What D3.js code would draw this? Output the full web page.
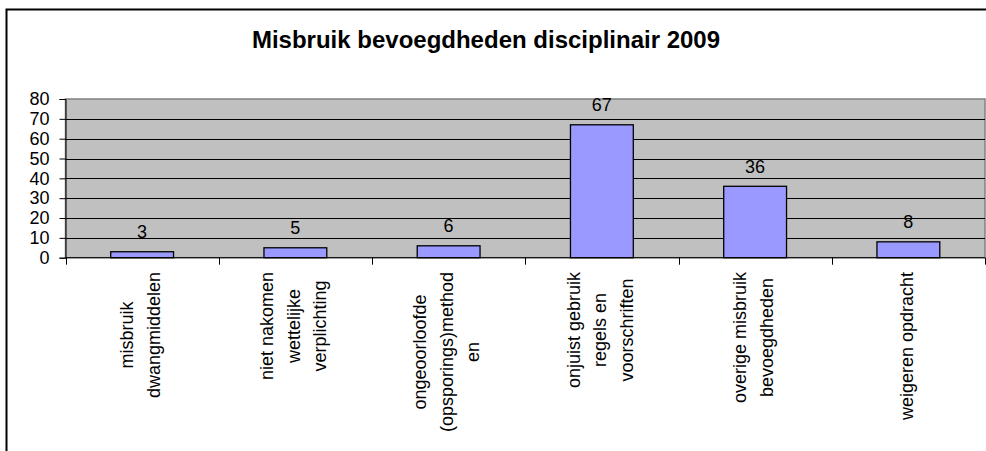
<!DOCTYPE html>
<html>
<head>
<meta charset="utf-8">
<script src="https://cdn.jsdelivr.net/npm/d3@7"></script>
<style>
  html, body { margin: 0; padding: 0; background: #fff; }
  svg { display: block; font-family: Arial, "Liberation Sans", sans-serif; }
</style>
</head>
<body>
<svg id="chart" width="986" height="451"></svg>
<script>
const title = "Misbruik bevoegdheden disciplinair 2009";
const categories = [
  ["misbruik", "dwangmiddelen"],
  ["niet nakomen", "wettelijke", "verplichting"],
  ["ongeoorloofde", "(opsporings)method", "en"],
  ["onjuist gebruik", "regels en", "voorschriften"],
  ["overige misbruik", "bevoegdheden"],
  ["weigeren opdracht"]
];
const values = [3, 5, 6, 67, 36, 8];
const yTicks = [0, 10, 20, 30, 40, 50, 60, 70, 80];

const svg = d3.select("#chart");
const W = 986, H = 451;
const plot = { left: 65.5, right: 985, top: 99, bottom: 257.7 };

// outer chart border
svg.append("rect")
  .attr("x", 6.5).attr("y", 9.5)
  .attr("width", 990).attr("height", 460)
  .attr("fill", "#fff").attr("stroke", "#000").attr("stroke-width", 2);

// title
svg.append("text")
  .attr("x", 486).attr("y", 48)
  .attr("text-anchor", "middle")
  .attr("font-weight", "bold")
  .attr("font-size", 24)
  .attr("fill", "#000")
  .text(title);

const keys = categories.map((c, i) => i);
const x = d3.scaleBand().domain(keys).range([plot.left, plot.right]).paddingInner(0).paddingOuter(0);
const y = d3.scaleLinear().domain([0, 80]).range([plot.bottom, plot.top]);

// plot area background
svg.append("rect")
  .attr("x", plot.left).attr("y", plot.top)
  .attr("width", plot.right - plot.left).attr("height", plot.bottom - plot.top)
  .attr("fill", "#C0C0C0").attr("stroke", "#808080").attr("stroke-width", 1.5);

// gridlines
svg.append("g").selectAll("line")
  .data(yTicks.filter(t => t > 0 && t < 80))
  .join("line")
  .attr("x1", plot.left).attr("x2", plot.right)
  .attr("y1", d => Math.round(y(d)) + 0.5).attr("y2", d => Math.round(y(d)) + 0.5)
  .attr("stroke", "#000").attr("stroke-width", 1);

// bars
const bw = x.bandwidth() * 0.41;
svg.append("g").selectAll("rect")
  .data(values)
  .join("rect")
  .attr("x", (d, i) => x(i) + x.bandwidth() / 2 - bw / 2)
  .attr("y", d => y(d))
  .attr("width", bw)
  .attr("height", d => y(0) - y(d))
  .attr("fill", "#9999FF")
  .attr("stroke", "#000").attr("stroke-width", 1.3);

// value labels
svg.append("g").selectAll("text")
  .data(values)
  .join("text")
  .attr("x", (d, i) => x(i) + x.bandwidth() / 2)
  .attr("y", d => y(d) - 13.5)
  .attr("text-anchor", "middle")
  .attr("font-size", 18)
  .attr("fill", "#000")
  .text(d => d);

// y axis
const yAxis = d3.axisLeft(y).tickValues(yTicks).tickSize(6).tickPadding(10);
const gy = svg.append("g").attr("transform", `translate(${plot.left},0)`).call(yAxis);
gy.select(".domain").attr("stroke", "#000");
gy.selectAll(".tick line").attr("stroke", "#000");
gy.selectAll(".tick text").attr("font-size", 18).attr("font-family", "Arial, 'Liberation Sans', sans-serif").attr("fill", "#000");

// x axis line and boundary ticks
svg.append("line")
  .attr("x1", plot.left).attr("x2", plot.right)
  .attr("y1", plot.bottom).attr("y2", plot.bottom)
  .attr("stroke", "#000").attr("stroke-width", 1);
const bounds = keys.map(k => x(k)).concat([plot.right]);
svg.append("g").selectAll("line")
  .data(bounds)
  .join("line")
  .attr("x1", d => Math.round(d) + 0.5).attr("x2", d => Math.round(d) + 0.5)
  .attr("y1", plot.bottom).attr("y2", plot.bottom + 7)
  .attr("stroke", "#000").attr("stroke-width", 1);

// category labels (rotated, multi-line, centered in block anchored near axis)
const labelTop = 272;
const lineGap = 26.5;
categories.forEach((lines, i) => {
  const cx = x(i) + x.bandwidth() / 2 - 2;
  const g = svg.append("g");
  const texts = lines.map((ln, j) => g.append("text")
    .attr("font-size", 18).attr("fill", "#000")
    .attr("text-anchor", "middle")
    .text(ln));
  const maxW = d3.max(texts, t => t.node().getComputedTextLength());
  const cy = labelTop + maxW / 2;
  const n = lines.length;
  texts.forEach((t, j) => {
    const off = (j - (n - 1) / 2) * lineGap;
    t.attr("transform", `translate(${cx + off},${cy}) rotate(-90)`)
     .attr("dy", "0.35em");
  });
});
</script>
</body>
</html>
